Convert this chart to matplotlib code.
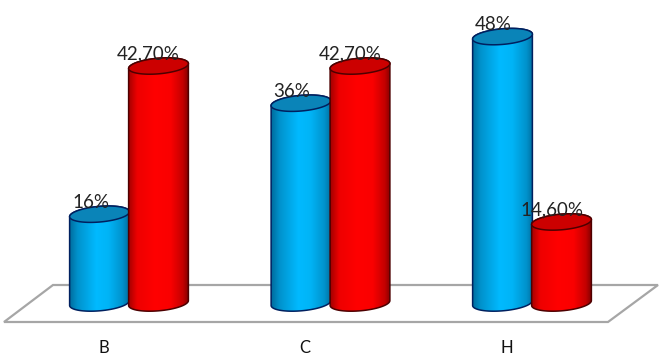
import numpy as np
import matplotlib
matplotlib.use("Agg")
import matplotlib.pyplot as plt
from matplotlib.colors import LinearSegmentedColormap
from matplotlib.patches import Polygon

categories = ["B", "C", "H"]
blue_values = [16, 36, 48]
red_values = [42.7, 42.7, 14.6]
blue_labels = ["16%", "36%", "48%"]
red_labels = ["42,70%", "42,70%", "14,60%"]

plt.rcParams['font.family'] = ['Lato', 'DejaVu Sans']

W, H = 663, 355
PX_PER_GROUP = 201.5
PX_PER_VALUE = 5.55
X0_PX = 129
Y0_PX = 303

fig = plt.figure(figsize=(W / 100, H / 100), dpi=100)
ax = fig.add_axes([0, 0, 1, 1])
xlim = (-X0_PX / PX_PER_GROUP, (W - X0_PX) / PX_PER_GROUP)
ylim = ((Y0_PX - H) / PX_PER_VALUE, Y0_PX / PX_PER_VALUE)
ax.axis("off")

blue_cmap = LinearSegmentedColormap.from_list("b", [(0, "#006a9a"), (0.14, "#0092cc"), (0.45, "#00baff"),
                                                    (0.65, "#00b4f6"), (0.88, "#0092cc"), (1, "#006a9a")])
red_cmap = LinearSegmentedColormap.from_list("r", [(0, "#a00000"), (0.15, "#ee0000"), (0.45, "#ff0000"),
                                                   (0.7, "#fa0000"), (0.9, "#c40000"), (1, "#800000")])


def ell(xc, v, a=30.0, b=7.8, t=None):
    # tilted ellipse, sizes in pixels, returned in data units
    if t is None:
        t = np.linspace(0, 2 * np.pi, 120)
    phi = np.radians(5.0)
    dx = a * np.cos(t) * np.cos(phi) - b * np.sin(t) * np.sin(phi)
    dy = a * np.cos(t) * np.sin(phi) + b * np.sin(t) * np.cos(phi)
    return np.column_stack([xc + dx / PX_PER_GROUP, v + dy / PX_PER_VALUE])


def cylinder(xc, v, cmap, top_col, edge_col, z):
    # body outline: top half of the top ellipse is covered by the cap anyway
    top = ell(xc, v, t=np.linspace(0, np.pi, 60))
    bottom = ell(xc, 0, t=np.linspace(np.pi, 2 * np.pi, 60))
    body = Polygon(np.vstack([top, bottom]), closed=True, fc="none", ec=edge_col, lw=1.1, zorder=z + 0.2)
    ax.add_patch(body)
    grad = np.linspace(0, 1, 256).reshape(1, -1)
    half = 30.5 / PX_PER_GROUP
    im = ax.imshow(grad, cmap=cmap, extent=(xc - half, xc + half, -3, v + 3),
                   aspect="auto", zorder=z + 0.1)
    im.set_clip_path(body)
    ax.add_patch(Polygon(ell(xc, v), closed=True, fc=top_col, ec=edge_col, lw=1.1, zorder=z + 0.3))


# floor, pixel corners converted to data units
floor_px = [(4, 322), (53, 285), (658, 285), (608, 322)]
floor = [((x - X0_PX) / PX_PER_GROUP, (Y0_PX - y) / PX_PER_VALUE) for x, y in floor_px]
ax.add_patch(Polygon(floor, closed=True, fc="white", ec="#a6a6a6", lw=1.6, zorder=1))

offset = 29.5 / PX_PER_GROUP
for i in range(len(categories)):
    cylinder(i - offset, blue_values[i], blue_cmap, "#0a84b8", "#00205f", 2 + i)
    cylinder(i + offset, red_values[i], red_cmap, "#cc0000", "#4d0000", 2.5 + i)
    ax.text(i - offset - 9 / PX_PER_GROUP, blue_values[i] + 1.2, blue_labels[i], ha="center", va="baseline",
            fontsize=13.5, color="#222222", zorder=10)
    ax.text(i + offset - 10 / PX_PER_GROUP, red_values[i] + 1.2, red_labels[i], ha="center", va="baseline",
            fontsize=13.5, color="#222222", zorder=10)
    ax.text(i - 25.5 / PX_PER_GROUP, -9.0, categories[i], ha="center", va="baseline",
            fontsize=12, color="#111111", zorder=10)

ax.set_xlim(*xlim)
ax.set_ylim(*ylim)
fig.savefig("out.png", dpi=100, facecolor="white")
